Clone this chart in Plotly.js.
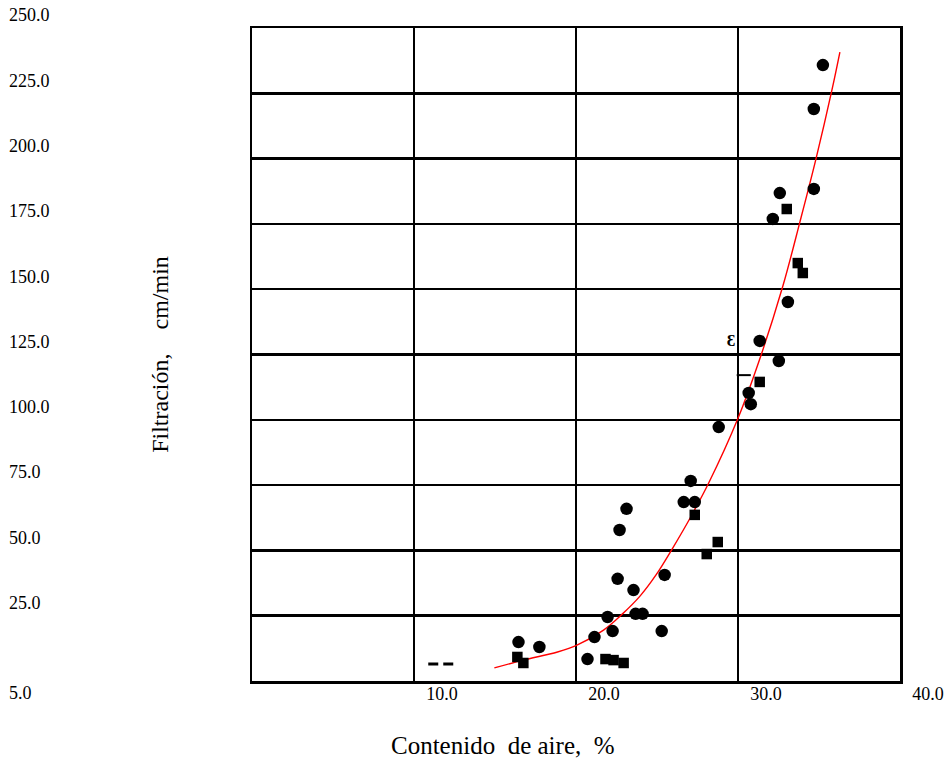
<!DOCTYPE html>
<html><head><meta charset="utf-8">
<script src="https://cdn.plot.ly/plotly-3.0.1.min.js"></script>
<style>html,body{margin:0;padding:0;background:#fff}#chart{width:948px;height:761px}</style>
</head><body><div id="chart"></div>
<script>
// Contenido de aire (%) vs Filtración (cm/min)
const circleX = [35.24, 34.68, 34.68, 32.58, 32.15, 33.08, 31.34, 32.52, 30.66, 30.79, 28.81, 27.08, 26.65, 27.33,
                 23.12, 22.69, 22.57, 23.55, 25.47, 21.95, 23.68, 24.11, 22.26, 21.14, 25.29, 16.45, 17.74, 20.71];
const circleY = [235.8, 219.0, 188.4, 186.8, 176.9, 145.1, 130.2, 122.5, 110.3, 106.0, 97.2, 76.6, 68.5, 68.5,
                 65.9, 57.8, 39.1, 34.8, 40.6, 24.5, 25.7, 25.7, 19.1, 16.8, 19.1, 14.9, 13.0, 8.4];
const squareX = [33.01, 33.69, 34.00, 31.34, 27.33, 28.75, 28.07, 16.38, 16.75, 21.82, 22.32, 22.94];
const squareY = [180.7, 160.0, 156.2, 114.5, 63.6, 53.2, 48.6, 9.2, 6.9, 8.4, 8.0, 6.9];
// fitted curve
const curveX = [14.96, 16.75, 18.86, 20.09, 21.70, 22.87, 23.95, 24.94, 25.97, 27.08, 28.19, 29.98, 31.47, 32.77, 33.82, 34.81, 35.80, 36.29];
const curveY = [5.0, 8.0, 11.1, 13.8, 19.5, 25.7, 32.5, 40.6, 50.9, 62.8, 75.8, 100.3, 125.6, 151.2, 175.7, 199.8, 226.3, 240.8];
// stray marks on the original sheet
const dashX = [10.88, 12.43];
const dashY = [6.5, 6.5];
const tickMarkX = [29.92, 30.79];
const tickMarkY = [117.1, 117.1];
const glyphX = [29.57];
const glyphY = [129.8];

const xTickVals = [10, 20, 30, 40];
const xTickText = ['10.0', '20.0', '30.0', '40.0'];
const yTickVals = [25, 50, 75, 100, 125, 150, 175, 200, 225, 250];
const yTickText = ['25.0', '50.0', '75.0', '100.0', '125.0', '150.0', '175.0', '200.0', '225.0', '250.0'];
const yLowVals = [0];
const yLowText = ['5.0'];

const xTitle = 'Contenido\u00A0 de aire,\u00A0 %';
const yTitle = 'Filtración,\u00A0\u00A0\u00A0 cm/min';

const serif = 'Liberation Serif, Times New Roman, serif';
const tickFont = {family: serif, size: 18, color: '#000'};

const traces = [
  {x: curveX, y: curveY, type: 'scatter', mode: 'lines', line: {color: '#ff0000', width: 1.4, shape: 'spline'}},
  {x: circleX, y: circleY, type: 'scatter', mode: 'markers', marker: {symbol: 'circle', size: 12.5, color: '#000'}},
  {x: squareX, y: squareY, type: 'scatter', mode: 'markers', marker: {symbol: 'square', size: 10.5, color: '#000'}},
  {x: dashX, y: dashY, type: 'scatter', mode: 'lines', line: {color: '#000', width: 3, dash: '10px,5px'}},
  {x: tickMarkX, y: tickMarkY, type: 'scatter', mode: 'lines', line: {color: '#000', width: 2}},
  {x: glyphX, y: glyphY, type: 'scatter', mode: 'text', text: ['<b>Ɛ</b>'], textfont: {family: serif, size: 16, color: '#000'}},
  {x: [], y: [], type: 'scatter', yaxis: 'y2'},
  {x: [], y: [], type: 'scatter', yaxis: 'y3'}
];

const layout = {
  width: 948, height: 761,
  margin: {l: 252, r: 48, t: 28, b: 80},
  paper_bgcolor: '#fff', plot_bgcolor: '#fff',
  showlegend: false, hovermode: false,
  xaxis: {
    range: [0, 40], tickvals: xTickVals, ticktext: xTickText, tickfont: tickFont,
    ticks: '', ticklabelshift: 28, ticklabelstandoff: -5,
    showgrid: true, gridcolor: '#000', gridwidth: 2.5,
    showline: true, linecolor: '#000', linewidth: 2.5, mirror: true, zeroline: false
  },
  yaxis: {
    range: [0, 250], tickvals: yTickVals, showticklabels: false, ticks: '',
    showgrid: true, gridcolor: '#000', gridwidth: 2.5,
    showline: true, linecolor: '#000', linewidth: 2.5, mirror: true, zeroline: false,
    title: {text: yTitle, font: {family: serif, size: 24, color: '#000'}, standoff: 74}
  },
  yaxis2: {
    overlaying: 'y', side: 'right', anchor: 'x', range: [0, 250],
    tickvals: yTickVals, ticktext: yTickText, tickfont: tickFont, ticks: '',
    ticklabelstandoff: -892, ticklabelshift: -13,
    showgrid: false, showline: false, zeroline: false
  },
  yaxis3: {
    overlaying: 'y', side: 'right', anchor: 'x', range: [0, 250],
    tickvals: yLowVals, ticktext: yLowText, tickfont: tickFont, ticks: '',
    ticklabelstandoff: -892, ticklabelshift: 12,
    showgrid: false, showline: false, zeroline: false
  },
  annotations: [
    {text: xTitle, xref: 'paper', yref: 'paper', x: 0.3873, y: -0.0995,
     xanchor: 'center', yanchor: 'middle', showarrow: false,
     font: {family: serif, size: 25, color: '#000'}}
  ]
};

Plotly.newPlot('chart', traces, layout, {displayModeBar: false, staticPlot: true});
</script>
</body></html>
